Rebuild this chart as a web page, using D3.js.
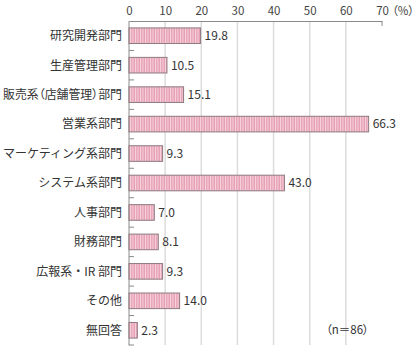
<!DOCTYPE html>
<html><head><meta charset="utf-8">
<script src="https://cdn.jsdelivr.net/npm/d3@7"></script>
<style>body{margin:0;background:#fff}text{font-family:"Noto Sans CJK JP","Noto Sans",sans-serif}</style>
</head><body><svg id="c" width="415" height="349"></svg>
<script>
const categories = ["研究開発部門","生産管理部門","販売系（店舗管理）部門","営業系部門","マーケティング系部門","システム系部門","人事部門","財務部門","広報系・IR 部門","その他","無回答"];
const values = [19.8,10.5,15.1,66.3,9.3,43.0,7.0,8.1,9.3,14.0,2.3];
const xTicks = [0,10,20,30,40,50,60,70];

const svg = d3.select("#c");
const x = d3.scaleLinear().domain([0,70]).range([129,382]);
const y = d3.scaleBand().domain(categories).range([21,345]).paddingInner(0.47).paddingOuter(0.235);
const band = d3.scaleBand().domain(categories).range([21,345]);

const defs = svg.append("defs");
const pat = defs.append("pattern").attr("id","st").attr("patternUnits","userSpaceOnUse").attr("width",2.5).attr("height",10);
pat.append("rect").attr("width",2.5).attr("height",10).attr("fill","#e79fb4");
pat.append("rect").attr("width",1).attr("height",10).attr("fill","#f6d6df");

// gridlines
svg.append("g").selectAll("line").data(xTicks.filter(d=>d>0&&d<70)).join("line")
  .attr("x1",d=>x(d)).attr("x2",d=>x(d)).attr("y1",21).attr("y2",345)
  .attr("stroke","#dcdcdc").attr("stroke-width",1.5);

// top axis
const topAxis = svg.append("g").attr("transform","translate(0,21)")
  .call(d3.axisTop(x).tickValues(xTicks).tickSize(0).tickPadding(6));
topAxis.select(".domain").attr("stroke","#8a8a8a");
topAxis.selectAll("text").attr("font-size",11.5).attr("fill","#444").attr("dy","0").attr("y",-6);
svg.append("line").attr("x1",x(70)).attr("x2",x(70)).attr("y1",21).attr("y2",26).attr("stroke","#8a8a8a");
svg.append("text").attr("x",x(70)+10).attr("y",15).attr("font-size",11.5).attr("fill","#444")
  .style("font-feature-settings","'palt'").text("（%）");

// left axis
svg.append("line").attr("x1",129).attr("x2",129).attr("y1",21).attr("y2",345.5).attr("stroke","#8a8a8a");
svg.append("g").selectAll("line").data(categories).join("line")
  .attr("x1",129).attr("x2",134).attr("y1",d=>band(d)+band.bandwidth()).attr("y2",d=>band(d)+band.bandwidth())
  .attr("stroke","#8a8a8a");

// bars
const data = categories.map((c,i)=>({c,v:values[i]}));
svg.append("g").selectAll("rect").data(data).join("rect")
  .attr("x",x(0)).attr("y",d=>y(d.c)).attr("width",d=>x(d.v)-x(0)).attr("height",y.bandwidth())
  .attr("fill","url(#st)").attr("stroke","#8c7a80").attr("stroke-width",1);

svg.append("g").selectAll("text").data(data).join("text")
  .attr("x",d=>x(d.v)+4).attr("y",d=>y(d.c)+y.bandwidth()/2).attr("dy","0.36em")
  .attr("font-size",12).attr("fill","#333").text(d=>d.v.toFixed(1));

svg.append("g").selectAll("text").data(categories).join("text")
  .attr("x",122).attr("y",d=>band(d)+band.bandwidth()/2).attr("dy","0.36em").attr("text-anchor","end")
  .attr("font-size",12).attr("fill","#333")
  .style("font-feature-settings",d=>d.includes("（")?"'palt'":"normal")
  .text(d=>d)
  .each(function(){ if(this.getComputedTextLength()>119){ d3.select(this).attr("textLength",119).attr("lengthAdjust","spacingAndGlyphs"); } });

svg.append("text").attr("x",326).attr("y",330).attr("dy","0.36em").attr("font-size",11.5).attr("fill","#333")
  .style("font-feature-settings","'palt'").text("（n＝86）");
</script></body></html>
